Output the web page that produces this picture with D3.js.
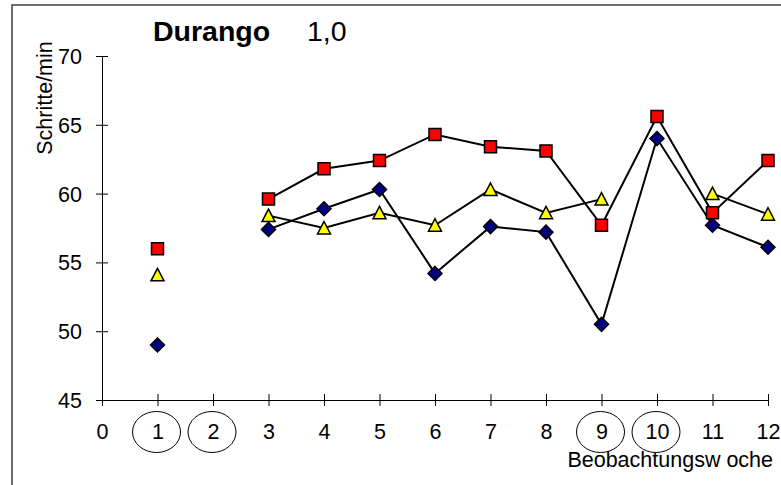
<!DOCTYPE html>
<html>
<head>
<meta charset="utf-8">
<script src="https://cdn.jsdelivr.net/npm/d3@7"></script>
<style>
  body { margin: 0; background: #fff; }
  svg { display: block; }
  text { font-family: "Liberation Sans", Arial, sans-serif; fill: #000; }
</style>
</head>
<body>
<svg id="chart" width="781" height="485"></svg>
<script>
// Observation weeks and y-axis ticks
const weeks = [0, 1, 2, 3, 4, 5, 6, 7, 8, 9, 10, 11, 12];
const yTicks = [45, 50, 55, 60, 65, 70];
const circledWeeks = [1, 2, 9, 10];

// Steps per minute per week (null = no observation)
const squares   = [null, 56.0, null, 59.6, 61.8, 62.4, 64.3, 63.4, 63.1, 57.7, 65.6, 58.6, 62.4];
const triangles = [null, 54.1, null, 58.4, 57.5, 58.6, 57.7, 60.3, 58.6, 59.6, null, 60.0, 58.5];
const diamonds  = [null, 49.0, null, 57.4, 58.9, 60.3, 54.2, 57.6, 57.2, 50.5, 64.0, 57.7, 56.1];

const svg = d3.select("#chart");
const labelSize = 21.5;

const x = d3.scaleLinear().domain([0, 12]).range([102, 768]);
const y = d3.scaleLinear().domain([45, 70]).range([400, 56]);

// frame
svg.append("rect")
  .attr("x", 12).attr("y", 5)
  .attr("width", 800).attr("height", 500)
  .attr("fill", "none").attr("stroke", "#4a4a4a").attr("stroke-width", 1.6);

// title
svg.append("text").attr("x", 153).attr("y", 41)
  .attr("font-size", 28.5).attr("font-weight", "bold").text("Durango");
svg.append("text").attr("x", 307).attr("y", 41)
  .attr("font-size", 28.5).text("1,0");

// y axis
const yAxis = svg.append("g")
  .attr("transform", `translate(${x(0)},0)`)
  .call(d3.axisLeft(y).tickValues(yTicks).tickSizeOuter(0).tickSizeInner(6).tickPadding(14));
yAxis.selectAll(".tick line").attr("x1", -6).attr("x2", 6);
yAxis.selectAll("text").attr("font-size", labelSize).attr("dy", "0.35em");

// x axis
const xAxis = svg.append("g")
  .attr("transform", `translate(0,${y(45)})`)
  .call(d3.axisBottom(x).tickValues(weeks).tickSizeOuter(0).tickSizeInner(6));
xAxis.selectAll(".tick line").attr("y1", -6).attr("y2", 6);
xAxis.selectAll("text").attr("font-size", labelSize)
  .attr("y", 39).attr("dy", 0);

[yAxis, xAxis].forEach(g => {
  g.attr("font-family", null).attr("font-size", null);
  g.select(".domain").attr("stroke", "#000");
  g.selectAll(".tick line").attr("stroke", "#000");
});

// circled weeks
svg.append("g").selectAll("ellipse")
  .data(circledWeeks)
  .join("ellipse")
  .attr("cx", d => x(d) - 1)
  .attr("cy", 432)
  .attr("rx", 24).attr("ry", 20.5)
  .attr("fill", "none").attr("stroke", "#000").attr("stroke-width", 1);

// axis titles
svg.append("text")
  .attr("transform", "translate(52,98) rotate(-90)")
  .attr("text-anchor", "middle")
  .attr("font-size", labelSize)
  .text("Schritte/min");
svg.append("text")
  .attr("x", 773).attr("y", 467)
  .attr("text-anchor", "end")
  .attr("font-size", labelSize)
  .text("Beobachtungsw oche");

// series
const series = [
  { values: diamonds,  fill: "#000080", shape: "diamond" },
  { values: triangles, fill: "#ffff00", shape: "triangle" },
  { values: squares,   fill: "#ff0000", shape: "square" }
];

const shapes = {
  square:   "M-6,-6H6V6H-6Z",
  triangle: "M0,-6.5L6.5,6L-6.5,6Z",
  diamond:  "M0,-7L7,0L0,7L-7,0Z"
};

const line = d3.line()
  .defined(d => d.v != null)
  .x(d => x(d.w))
  .y(d => y(d.v));

const rows = series.map(s => ({
  ...s,
  points: weeks.map((w, i) => ({ w, v: s.values[i] }))
}));

svg.append("g").selectAll("path")
  .data(rows)
  .join("path")
  .attr("d", s => line(s.points))
  .attr("fill", "none")
  .attr("stroke", "#000")
  .attr("stroke-width", 2);

rows.forEach(s => {
  svg.append("g").selectAll("path")
    .data(s.points.filter(d => d.v != null))
    .join("path")
    .attr("transform", d => `translate(${x(d.w)},${y(d.v)})`)
    .attr("d", shapes[s.shape])
    .attr("fill", s.fill)
    .attr("stroke", "#000")
    .attr("stroke-width", 1.5);
});
</script>
</body>
</html>
